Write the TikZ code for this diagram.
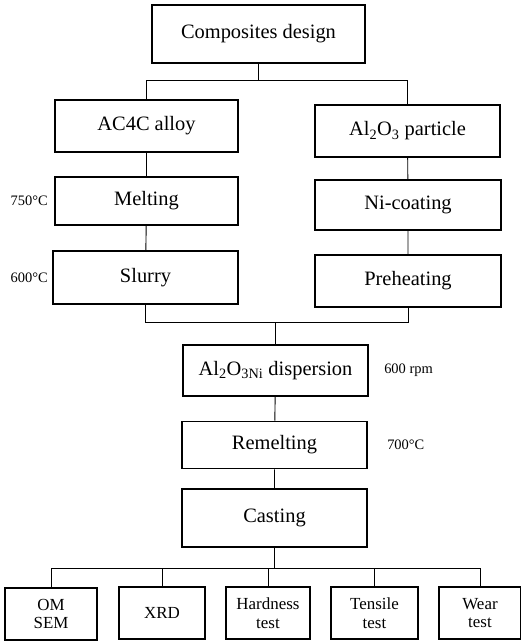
\documentclass[tikz,border=0pt]{standalone}
\usepackage{fontspec}
\setmainfont{Liberation Serif}
\usetikzlibrary{calc}

\begin{document}
\begin{tikzpicture}[x=1bp, y=-1bp, line width=0.9bp,
		stage/.style={draw, line width=1.6bp, inner sep=0pt, font=\fontsize{20.5}{22}\selectfont},
		test/.style={stage, align=center, minimum width=86bp, minimum height=52bp, font=\fontsize{17}{19}\selectfont},
		note/.style={inner sep=0pt, font=\fontsize{14.5}{16}\selectfont}]
		\useasboundingbox (0,0) rectangle (521,644);
		\node[stage, minimum width=213bp, minimum height=58bp] (design) at (258.5,34) {Composites design};
		\node[stage, minimum width=183bp, minimum height=52bp] (alloy) at (146.5,126) {AC4C alloy};
		\node[stage, minimum width=185bp, minimum height=52bp] (particle) at (407.5,131) {Al\textsubscript{2}O\textsubscript{3} particle};
		\node[stage, minimum width=183bp, minimum height=48bp] (melting) at (146.5,201) {Melting};
		\node[stage, minimum width=186bp, minimum height=50bp] (coating) at (408,205) {Ni-coating};
		\node[stage, minimum width=185bp, minimum height=53bp] (slurry) at (145.5,277.5) {Slurry};
		\node[stage, minimum width=186bp, minimum height=52bp] (preheat) at (408,281) {Preheating};
		\node[stage, minimum width=185bp, minimum height=51bp] (dispersion) at (275.5,370.5) {Al\textsubscript{2}O\textsubscript{3Ni} dispersion};
		\node[stage, minimum width=185bp, minimum height=47bp] (remelting) at (274.5,445) {Remelting};
		\node[stage, minimum width=185bp, minimum height=58bp] (casting) at (274.5,518) {Casting};
		\node[test, minimum width=92bp] (om) at (51,614) {OM\\SEM};
		\node[test] (xrd) at (162,613) {XRD};
		\node[test, minimum width=84bp] (hard) at (268,613) {Hardness\\test};
		\node[test, minimum width=87bp] (tens) at (374.5,613) {Tensile\\test};
		\node[test, minimum width=82bp] (wear) at (480,613) {Wear\\test};
		\node[note, anchor=east] (t750) at ([xshift=-6bp]melting.west) {750°C};
		\node[note, anchor=east] (t600) at ([xshift=-4bp]slurry.west) {600°C};
		\node[note, anchor=west] (rpm) at ([xshift=15bp]dispersion.east) {600 rpm};
		\node[note, anchor=west] (t700) at ([xshift=19bp]remelting.east) {700°C};
		\coordinate (top) at ($(design.south)+(0,17)$);
		\coordinate (mid) at ($(dispersion.north)+(0,-22)$);
		\coordinate (fork) at ($(casting.south)+(0,21)$);
		\draw (design.south) -- (top);
		\draw (alloy.north) |- (top) -| (particle.north);
		\draw (alloy) -- (melting) (melting) -- (slurry);
		\draw (particle) -- (coating) (coating) -- (preheat);
		\draw (slurry.south) |- (mid) -| (preheat.south);
		\draw (mid) -- (dispersion.north);
		\draw (dispersion) -- (remelting) (remelting) -- (casting);
		\draw (casting.south) -- (fork);
		\foreach \t in {om, xrd, hard, tens, wear}
			\draw (fork) -| (\t.north);
	\end{tikzpicture}
\end{document}
